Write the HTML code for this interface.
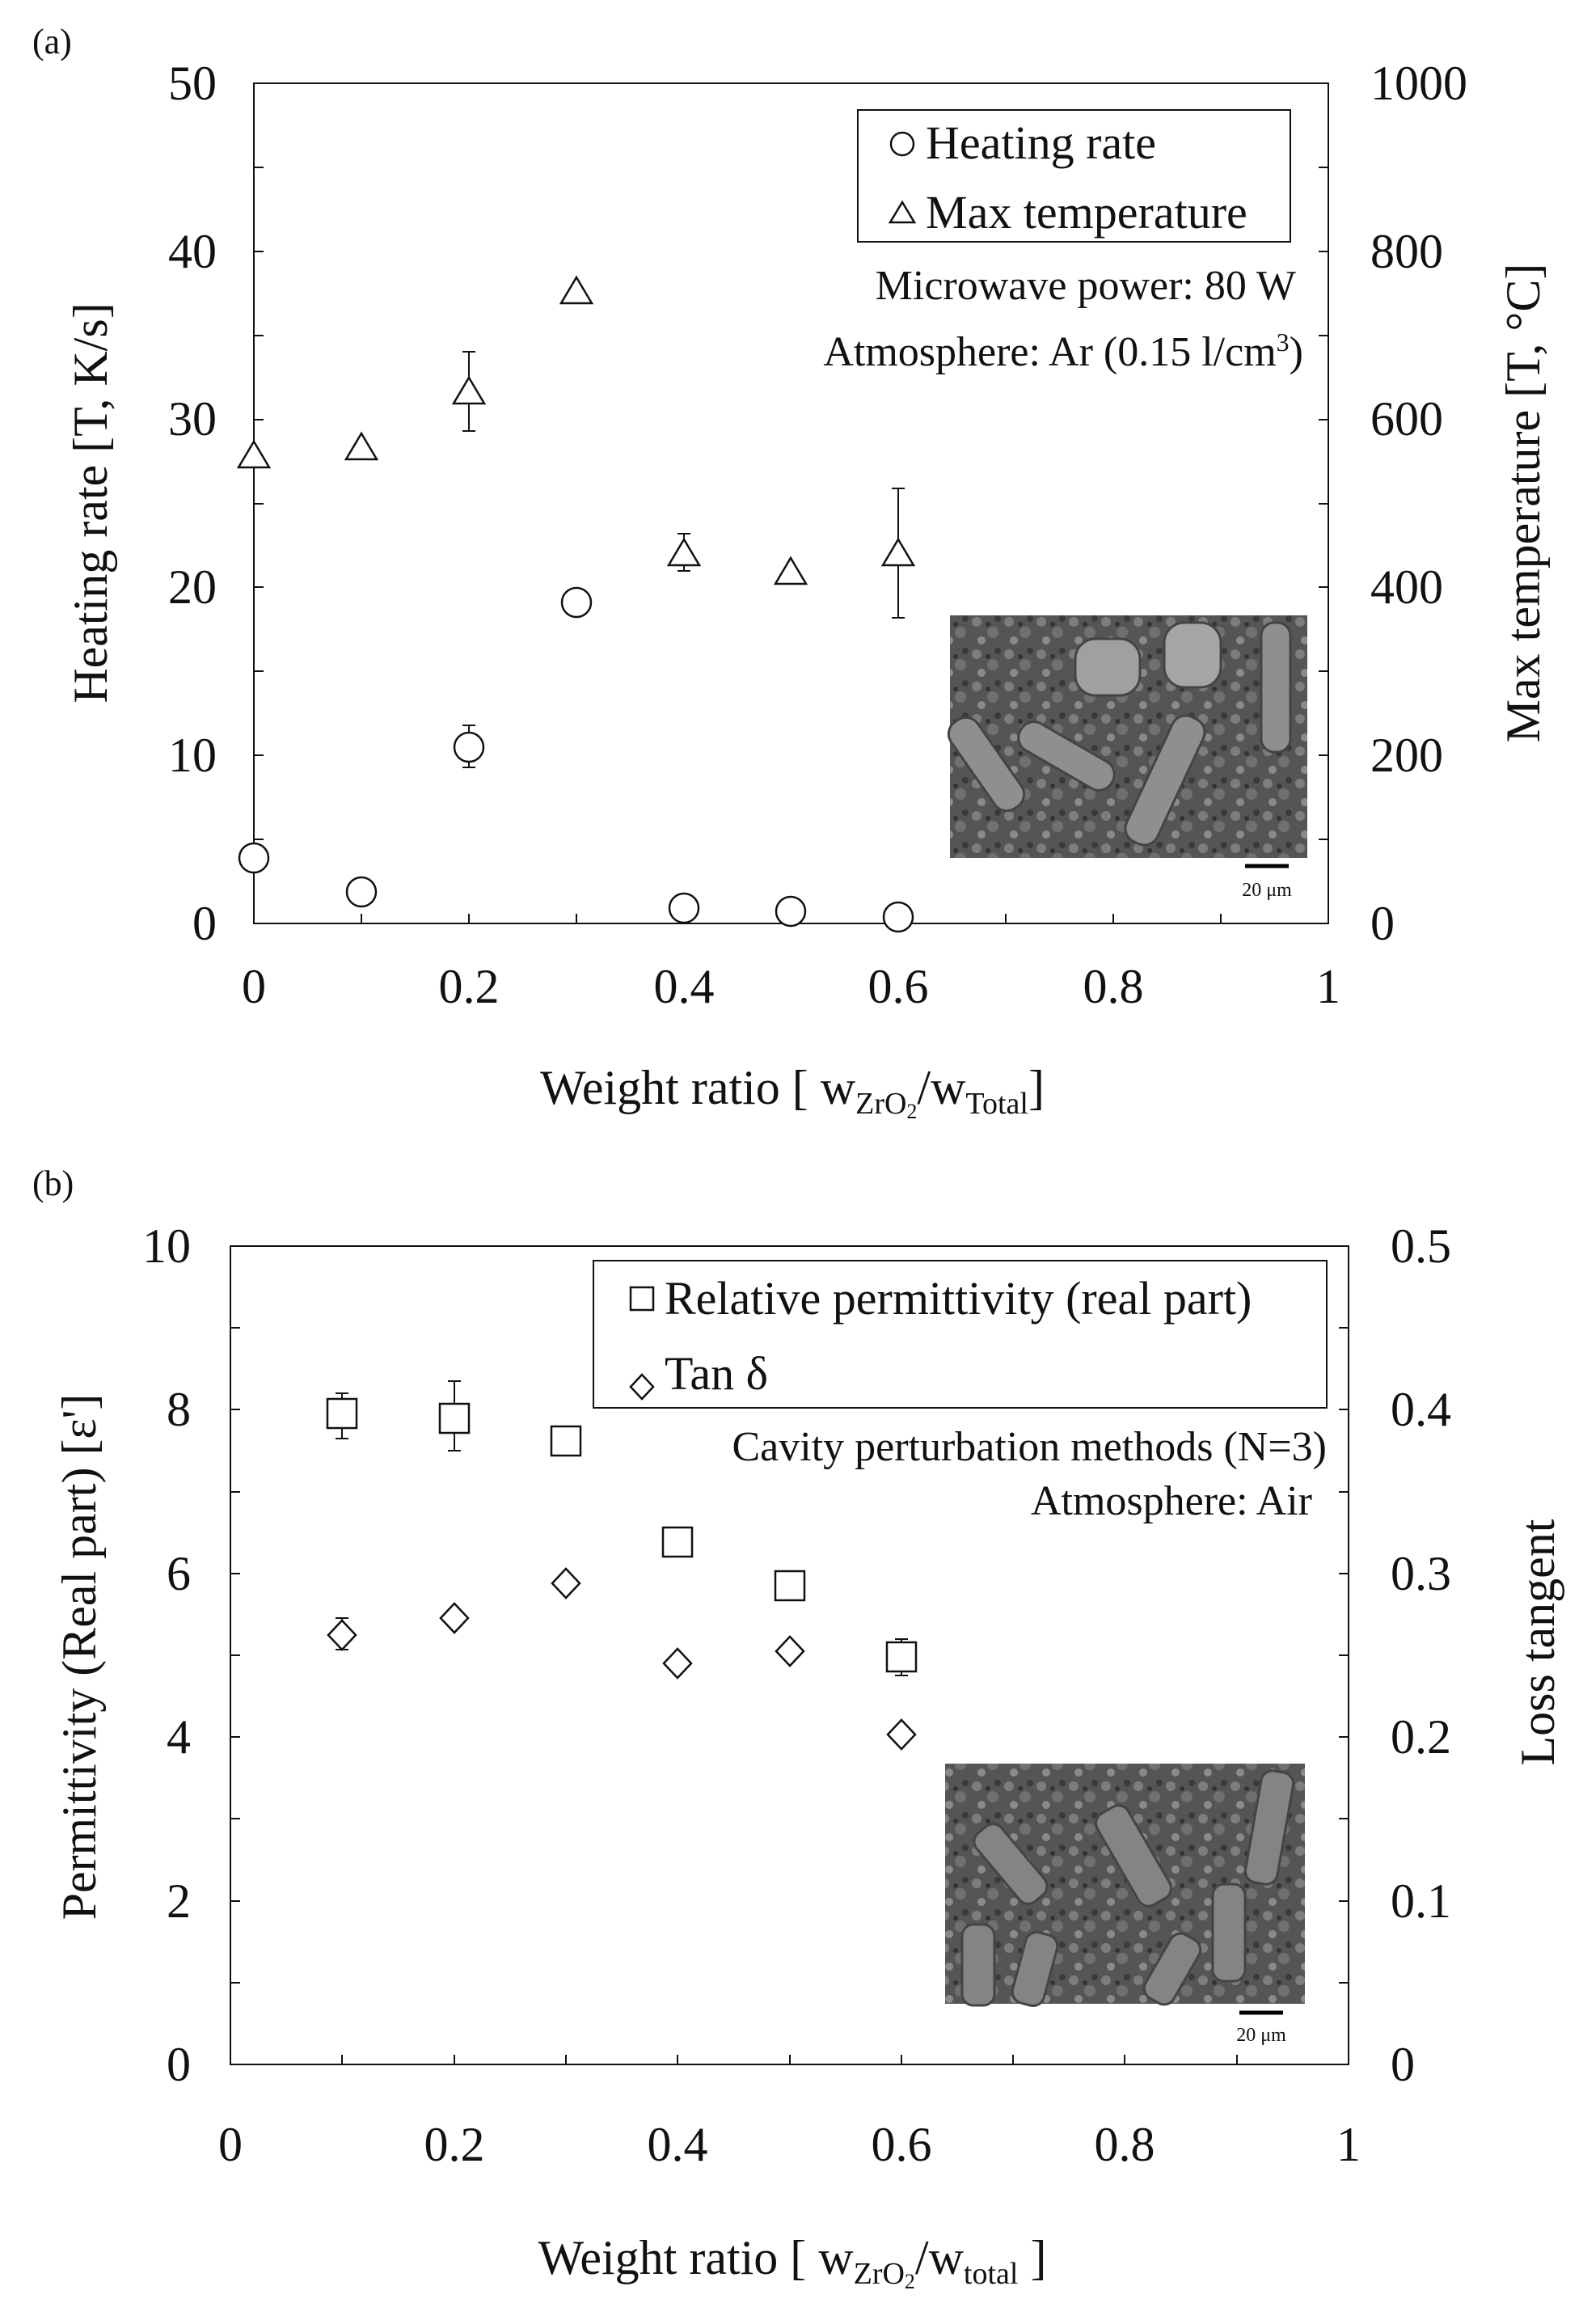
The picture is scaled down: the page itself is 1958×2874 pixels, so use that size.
<!DOCTYPE html>
<html><head><meta charset="utf-8"><style>
html,body{margin:0;padding:0;background:#fff}
svg{display:block}
text{font-family:"Liberation Serif",serif;fill:#111}
</style></head><body>
<svg width="1958" height="2874" viewBox="0 0 1958 2874" xmlns="http://www.w3.org/2000/svg">
<defs>
<pattern id="tex" width="40" height="40" patternUnits="userSpaceOnUse">
<rect width="40" height="40" fill="#555"/>
<circle cx="8" cy="9" r="6" fill="#7d7d7d"/><circle cx="28" cy="22" r="7" fill="#707070"/>
<circle cx="14" cy="32" r="5" fill="#8a8a8a"/><circle cx="34" cy="5" r="4" fill="#3a3a3a"/>
<circle cx="22" cy="12" r="3" fill="#333"/>
</pattern>
</defs>
<g stroke="#111" stroke-width="2" fill="none">
<rect x="314" y="103" width="1329" height="1039"/>
<path d="M314 1142h12M314 1038h12M314 934h12M314 830h12M314 726h12M314 623h12M314 519h12M314 415h12M314 311h12M314 207h12M314 103h12"/>
<path d="M1643 1142h-12M1643 1038h-12M1643 934h-12M1643 830h-12M1643 726h-12M1643 623h-12M1643 519h-12M1643 415h-12M1643 311h-12M1643 207h-12M1643 103h-12"/>
<path d="M447 1142v-12M580 1142v-12M713 1142v-12M846 1142v-12M978 1142v-12M1111 1142v-12M1244 1142v-12M1377 1142v-12M1510 1142v-12"/>
<rect x="1061" y="136" width="535" height="163" stroke-width="2"/>
<rect x="285" y="1541" width="1383" height="1012"/>
<path d="M285 2452h12M285 2351h12M285 2249h12M285 2148h12M285 2047h12M285 1946h12M285 1845h12M285 1743h12M285 1642h12"/>
<path d="M1668 2452h-12M1668 2351h-12M1668 2249h-12M1668 2148h-12M1668 2047h-12M1668 1946h-12M1668 1845h-12M1668 1743h-12M1668 1642h-12"/>
<path d="M423 2553v-12M562 2553v-12M700 2553v-12M838 2553v-12M977 2553v-12M1115 2553v-12M1253 2553v-12M1391 2553v-12M1530 2553v-12"/>
<rect x="734" y="1559" width="907" height="182"/>
</g>
<rect x="1175" y="761" width="442" height="300" fill="url(#tex)"/>
<g fill="#8f8f8f" stroke="#444" stroke-width="3">
<rect x="1200" y="880" width="40" height="130" rx="18" transform="rotate(-35 1220 945)"/>
<rect x="1300" y="870" width="38" height="130" rx="18" transform="rotate(-60 1319 935)"/>
<rect x="1420" y="880" width="42" height="170" rx="18" transform="rotate(25 1441 965)"/>
<rect x="1560" y="770" width="36" height="160" rx="16"/>
<rect x="1330" y="790" width="80" height="70" rx="25" fill="#a0a0a0"/>
<rect x="1440" y="770" width="70" height="80" rx="25" fill="#a5a5a5"/>
</g>
<rect x="1169" y="2181" width="445" height="297" fill="url(#tex)"/>
<g fill="#848484" stroke="#444" stroke-width="3">
<rect x="1230" y="2250" width="40" height="110" rx="14" transform="rotate(-40 1250 2305)"/>
<rect x="1380" y="2230" width="44" height="130" rx="14" transform="rotate(-30 1402 2295)"/>
<rect x="1550" y="2190" width="40" height="140" rx="14" transform="rotate(10 1570 2260)"/>
<rect x="1190" y="2380" width="40" height="100" rx="14"/>
<rect x="1260" y="2390" width="40" height="90" rx="14" transform="rotate(15 1280 2435)"/>
<rect x="1500" y="2330" width="40" height="120" rx="14"/>
<rect x="1430" y="2390" width="40" height="90" rx="14" transform="rotate(30 1450 2435)"/>
</g>
<path d="M1540 1071h54M1533 2489h54" stroke="#000" stroke-width="5"/>
<text x="1567" y="1108" font-size="24" text-anchor="middle">20 μm</text>
<text x="1560" y="2524" font-size="24" text-anchor="middle">20 μm</text>

<g stroke="#111" stroke-width="2" fill="none">
<path d="M580 949v-52M572 949h16M572 897h16"/>
<path d="M580 533v-98M572 533h16M572 435h16"/>
<path d="M846 706v-46M838 706h16M838 660h16"/>
<path d="M1111 764v-160M1103 764h16M1103 604h16"/>
</g>
<g stroke="#111" stroke-width="2.5" fill="#fff">
<circle cx="314" cy="1061" r="18"/><circle cx="447" cy="1103" r="18"/><circle cx="580" cy="924" r="18"/>
<circle cx="713" cy="745" r="18"/><circle cx="846" cy="1123" r="18"/><circle cx="978" cy="1127" r="18"/><circle cx="1111" cy="1134" r="18"/>
<path d="M314 546l19 32h-38z"/><path d="M447 536l19 32h-38z"/><path d="M580 467l19 32h-38z"/>
<path d="M713 343l19 32h-38z"/><path d="M846 667l19 32h-38z"/><path d="M978 690l19 32h-38z"/><path d="M1111 667l19 32h-38z"/>
</g>
<g stroke="#111" stroke-width="2.5" fill="none">
<circle cx="1116" cy="178" r="14"/><path d="M1116 250l15 25h-30z"/>
</g>
<g stroke="#111" stroke-width="2" fill="none">
<path d="M423 1779v-56M415 1779h16M415 1723h16"/>
<path d="M562 1794v-86M554 1794h16M554 1708h16"/>
<path d="M1115 2072v-45M1107 2072h16M1107 2027h16"/>
<path d="M423 2040v-39M415 2040h16M415 2001h16"/>
</g>
<g stroke="#111" stroke-width="2.5" fill="#fff">
<rect x="405" y="1730" width="36" height="36"/><rect x="544" y="1736" width="36" height="36"/>
<rect x="682" y="1764" width="36" height="36"/><rect x="820" y="1889" width="36" height="36"/>
<rect x="959" y="1943" width="36" height="36"/><rect x="1097" y="2031" width="36" height="36"/>
<path d="M423 2004l17 18-17 18-17-18z"/><path d="M562 1983l17 18-17 18-17-18z"/>
<path d="M700 1940l17 18-17 18-17-18z"/><path d="M838 2039l17 18-17 18-17-18z"/>
<path d="M977 2024l17 18-17 18-17-18z"/><path d="M1115 2127l17 18-17 18-17-18z"/>
</g>
<g stroke="#111" stroke-width="2.5" fill="none">
<rect x="780" y="1592" width="28" height="28"/><path d="M794 1700l14 15-14 15-14-15z"/>
</g>

<text x="40" y="66" font-size="44">(a)</text>
<g font-size="60" text-anchor="end">
<text x="268" y="1162">0</text><text x="268" y="954">10</text><text x="268" y="746">20</text>
<text x="268" y="538">30</text><text x="268" y="331">40</text><text x="268" y="123">50</text>
</g>
<g font-size="60">
<text x="1695" y="1162">0</text><text x="1695" y="954">200</text><text x="1695" y="746">400</text>
<text x="1695" y="538">600</text><text x="1695" y="331">800</text><text x="1695" y="123">1000</text>
</g>
<g font-size="60" text-anchor="middle">
<text x="314" y="1240">0</text><text x="580" y="1240">0.2</text><text x="846" y="1240">0.4</text>
<text x="1111" y="1240">0.6</text><text x="1377" y="1240">0.8</text><text x="1643" y="1240">1</text>
</g>
<text x="1145" y="196" font-size="58">Heating rate</text>
<text x="1145" y="282" font-size="58">Max temperature</text>
<text x="1603" y="370" font-size="52" text-anchor="end">Microwave power: 80 W</text>
<text x="1612" y="452" font-size="52" text-anchor="end">Atmosphere: Ar (0.15 l/cm<tspan font-size="32" dy="-18">3</tspan><tspan dy="18">)</tspan></text>
<text x="0" y="0" font-size="60" text-anchor="middle" transform="translate(132 622) rotate(-90)">Heating  rate [T, K/s]</text>
<text x="0" y="0" font-size="60" text-anchor="middle" transform="translate(1904 622) rotate(-90)">Max temperature  [T, °C]</text>
<text x="980" y="1365" font-size="60" text-anchor="middle">Weight  ratio [ w<tspan font-size="38" dy="12">ZrO</tspan><tspan font-size="26" dy="6">2</tspan><tspan dy="-18">/w</tspan><tspan font-size="38" dy="12">Total</tspan><tspan dy="-12">]</tspan></text>

<text x="40" y="1478" font-size="44">(b)</text>
<g font-size="60" text-anchor="end">
<text x="236" y="2573">0</text><text x="236" y="2371">2</text><text x="236" y="2168">4</text>
<text x="236" y="1966">6</text><text x="236" y="1763">8</text><text x="236" y="1561">10</text>
</g>
<g font-size="60">
<text x="1720" y="2573">0</text><text x="1720" y="2371">0.1</text><text x="1720" y="2168">0.2</text>
<text x="1720" y="1966">0.3</text><text x="1720" y="1763">0.4</text><text x="1720" y="1561">0.5</text>
</g>
<g font-size="60" text-anchor="middle">
<text x="285" y="2672">0</text><text x="562" y="2672">0.2</text><text x="838" y="2672">0.4</text>
<text x="1115" y="2672">0.6</text><text x="1391" y="2672">0.8</text><text x="1668" y="2672">1</text>
</g>
<text x="822" y="1625" font-size="58">Relative permittivity (real part)</text>
<text x="822" y="1718" font-size="58">Tan δ</text>
<text x="1641" y="1806" font-size="52" text-anchor="end">Cavity perturbation methods (N=3)</text>
<text x="1623" y="1873" font-size="52" text-anchor="end">Atmosphere: Air</text>
<text x="0" y="0" font-size="60" text-anchor="middle" transform="translate(118 2049) rotate(-90)">Permittivity  (Real part) [ε']</text>
<text x="0" y="0" font-size="60" text-anchor="middle" transform="translate(1922 2031) rotate(-90)">Loss tangent</text>
<text x="980" y="2812" font-size="60" text-anchor="middle">Weight  ratio [ w<tspan font-size="38" dy="12">ZrO</tspan><tspan font-size="26" dy="6">2</tspan><tspan dy="-18">/w</tspan><tspan font-size="38" dy="12">total</tspan><tspan dy="-12"> ]</tspan></text>
</svg>
</body></html>
